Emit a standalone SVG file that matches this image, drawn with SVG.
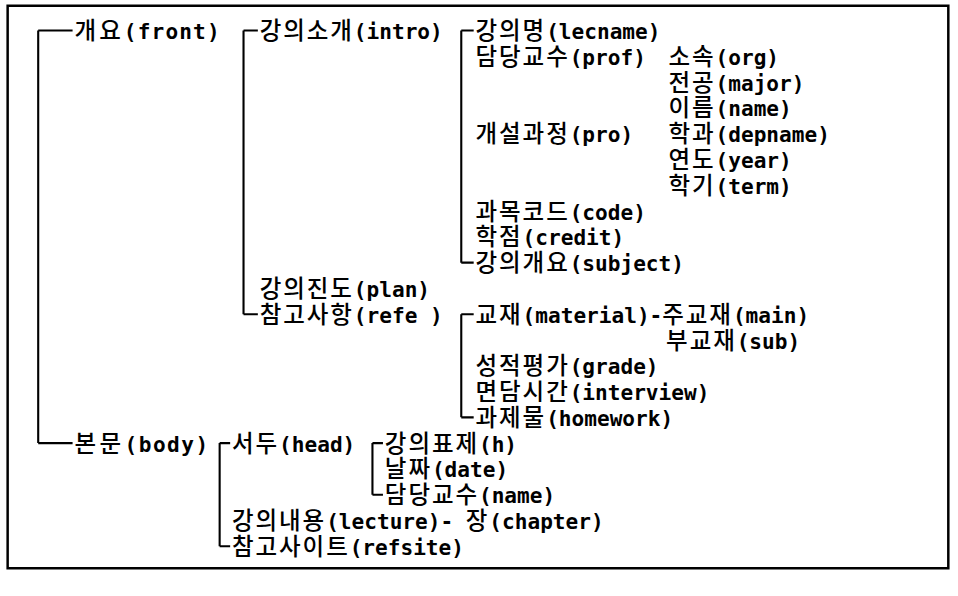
<svg xmlns="http://www.w3.org/2000/svg" width="958" height="596" viewBox="0 0 958 596">
<style>
text { fill: #000; }
.k { font-family: "Noto Sans CJK KR", "Noto Sans", sans-serif; font-size: 24.6px; font-weight: 500; letter-spacing: 2px; }
.l { font-family: "DejaVu Sans Mono", "Noto Sans CJK KR", monospace; font-size: 22.1px; font-weight: bold; }
.ln { fill: none; stroke: #000; stroke-width: 2.2; }
.fr { fill: none; stroke: #000; stroke-width: 2.6; }
</style>
<rect width="958" height="596" fill="#fff"/>
<g transform="scale(0.955)">
<g id="frame">
<path class="fr" d="M8 6 H993 V595 H8 Z"/>
</g>
<g id="connectors">
<path class="ln" d="M40 32 V464 M40 32 H76 M40 464 H76"/>
<path class="ln" d="M255 32 V329 M255 32 H270 M255 329 H270"/>
<path class="ln" d="M483 32 V275 M483 32 H496 M483 275 H496"/>
<path class="ln" d="M483 329 V437 M483 329 H496 M483 437 H496"/>
<path class="ln" d="M230 464 V572 M230 464 H241 M230 572 H241"/>
<path class="ln" d="M390 464 V518 M390 464 H401 M390 518 H401"/>
</g>
<g id="front"><text x="78" y="41" textLength="152"><tspan class="k">개요</tspan><tspan class="l">(front)</tspan></text></g>
<g id="body"><text x="78" y="473" textLength="140"><tspan class="k">본문</tspan><tspan class="l">(body)</tspan></text></g>
<g id="intro"><text x="272" y="41"><tspan class="k">강의소개</tspan><tspan class="l">(intro)</tspan></text></g>
<g id="plan"><text x="272" y="311"><tspan class="k">강의진도</tspan><tspan class="l">(plan)</tspan></text></g>
<g id="refe"><text x="272" y="338"><tspan class="k">참고사항</tspan><tspan class="l">(refe )</tspan></text></g>
<g id="lecname"><text x="498" y="41"><tspan class="k">강의명</tspan><tspan class="l">(lecname)</tspan></text></g>
<g id="prof"><text x="498" y="68"><tspan class="k">담당교수</tspan><tspan class="l">(prof)</tspan></text></g>
<g id="pro"><text x="498" y="149"><tspan class="k">개설과정</tspan><tspan class="l">(pro)</tspan></text></g>
<g id="code"><text x="498" y="230"><tspan class="k">과목코드</tspan><tspan class="l">(code)</tspan></text></g>
<g id="credit"><text x="498" y="257"><tspan class="k">학점</tspan><tspan class="l">(credit)</tspan></text></g>
<g id="subject"><text x="498" y="284"><tspan class="k">강의개요</tspan><tspan class="l">(subject)</tspan></text></g>
<g id="org"><text x="700" y="68"><tspan class="k">소속</tspan><tspan class="l">(org)</tspan></text></g>
<g id="major"><text x="700" y="95"><tspan class="k">전공</tspan><tspan class="l">(major)</tspan></text></g>
<g id="name"><text x="700" y="122"><tspan class="k">이름</tspan><tspan class="l">(name)</tspan></text></g>
<g id="depname"><text x="700" y="149"><tspan class="k">학과</tspan><tspan class="l">(depname)</tspan></text></g>
<g id="year"><text x="700" y="176"><tspan class="k">연도</tspan><tspan class="l">(year)</tspan></text></g>
<g id="term"><text x="700" y="203"><tspan class="k">학기</tspan><tspan class="l">(term)</tspan></text></g>
<g id="material"><text x="498" y="338"><tspan class="k">교재</tspan><tspan class="l">(material)-</tspan><tspan class="k">주교재</tspan><tspan class="l">(main)</tspan></text></g>
<g id="sub"><text x="697.5" y="365"><tspan class="k">부교재</tspan><tspan class="l">(sub)</tspan></text></g>
<g id="grade"><text x="498" y="392"><tspan class="k">성적평가</tspan><tspan class="l">(grade)</tspan></text></g>
<g id="interview"><text x="498" y="419"><tspan class="k">면담시간</tspan><tspan class="l">(interview)</tspan></text></g>
<g id="homework"><text x="498" y="446"><tspan class="k">과제물</tspan><tspan class="l">(homework)</tspan></text></g>
<g id="head"><text x="243" y="473"><tspan class="k">서두</tspan><tspan class="l">(head)</tspan></text></g>
<g id="lecture"><text x="243" y="554"><tspan class="k">강의내용</tspan><tspan class="l">(lecture)- </tspan><tspan class="k">장</tspan><tspan class="l">(chapter)</tspan></text></g>
<g id="refsite"><text x="243" y="581"><tspan class="k">참고사이트</tspan><tspan class="l">(refsite)</tspan></text></g>
<g id="h"><text x="403" y="473"><tspan class="k">강의표제</tspan><tspan class="l">(h)</tspan></text></g>
<g id="date"><text x="403" y="500"><tspan class="k">날짜</tspan><tspan class="l">(date)</tspan></text></g>
<g id="hname"><text x="403" y="527"><tspan class="k">담당교수</tspan><tspan class="l">(name)</tspan></text></g>
</g>
</svg>
